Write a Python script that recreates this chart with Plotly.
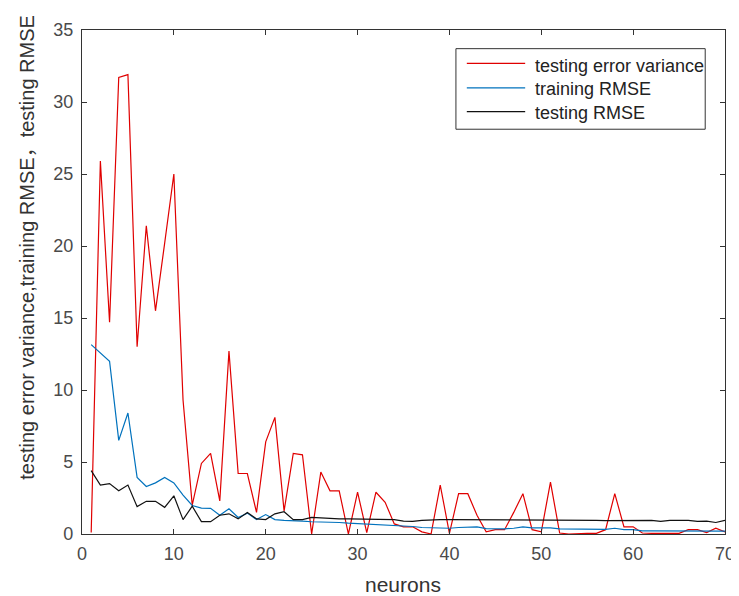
import plotly.graph_objects as go

neurons = list(range(1, 71))

testing_error_variance = [
    0.1, 25.9, 14.7, 31.7, 31.9, 13.0, 21.4, 15.5, 20.2, 25.0,
    9.3, 2.0, 4.9, 5.6, 2.3, 12.7, 4.2, 4.2, 1.5, 6.4,
    8.1, 1.6, 5.6, 5.5, 0.0, 4.3, 3.0, 3.0, 0.0, 2.9,
    0.1, 2.9, 2.2, 0.7, 0.5, 0.5, 0.15, 0.0, 3.4, 0.05,
    2.8, 2.8, 1.3, 0.15, 0.3, 0.3, 1.5, 2.8, 0.3, 0.15,
    3.6, 0.07, 0.0, 0.05, 0.05, 0.05, 0.3, 2.8, 0.5, 0.5,
    0.07, 0.05, 0.05, 0.05, 0.05, 0.3, 0.3, 0.1, 0.4, 0.15,
]

training_rmse = [
    13.15, 12.6, 12.0, 6.5, 8.4, 3.93, 3.3, 3.55, 3.93, 3.55,
    2.7, 1.98, 1.8, 1.78, 1.3, 1.75, 1.15, 1.45, 1.0, 1.35,
    1.0, 0.95, 0.95, 0.9, 0.85, 0.85, 0.8, 0.8, 0.75, 0.72,
    0.7, 0.68, 0.66, 0.6, 0.55, 0.52, 0.45, 0.42, 0.42, 0.4,
    0.45, 0.5, 0.5, 0.38, 0.36, 0.36, 0.4, 0.5, 0.42, 0.42,
    0.42, 0.35, 0.34, 0.34, 0.33, 0.32, 0.32, 0.4, 0.3, 0.3,
    0.22, 0.22, 0.22, 0.22, 0.22, 0.25, 0.25, 0.22, 0.22, 0.2,
]

testing_rmse = [
    4.4, 3.4, 3.5, 3.0, 3.4, 1.9, 2.27, 2.27, 1.85, 2.65,
    1.0, 1.93, 0.86, 0.86, 1.3, 1.4, 1.05, 1.5, 1.05, 1.0,
    1.4, 1.55, 1.0, 1.0, 1.15, 1.1, 1.05, 1.05, 1.05, 1.05,
    1.05, 1.02, 1.02, 1.0, 0.9, 0.88, 0.95, 1.0, 1.0, 1.0,
    1.0, 0.97, 0.95, 0.95, 0.95, 0.95, 0.95, 0.95, 0.95, 0.95,
    0.95, 0.95, 0.95, 0.95, 0.95, 0.95, 0.93, 0.93, 0.93, 0.95,
    0.95, 0.95, 0.87, 0.95, 0.95, 0.95, 0.87, 0.9, 0.8, 0.95,
]

series_names = ["testing error variance", "training RMSE", "testing RMSE"]
series_colors = ["#e00000", "#0072BD", "#111111"]
x_ticks = [0, 10, 20, 30, 40, 50, 60, 70]
y_ticks = [0, 5, 10, 15, 20, 25, 30, 35]
x_title = "neurons"
y_title = "testing error variance,training RMSE，testing RMSE"

W, H = 739, 596
L, R, T, B = 74, 724, 13, 526  # plot area in pixels


def px(xp):
    return (xp - L) / (R - L)


def py(yp):
    return (B - yp) / (B - T)


FONT = "Liberation Sans, Arial, Noto Sans CJK SC, sans-serif"

fig = go.Figure()
for name, vals, col in zip(series_names,
                           [testing_error_variance, training_rmse, testing_rmse],
                           series_colors):
    fig.add_trace(go.Scatter(x=neurons, y=vals, mode="lines", name=name,
                             line=dict(color=col, width=1.2), showlegend=False))

axis_common = dict(
    showgrid=False, zeroline=False, showline=True, linecolor="#333333",
    linewidth=1.2, mirror="ticks", ticks="inside", ticklen=5,
    tickcolor="#333333", tickwidth=1,
    tickfont=dict(family=FONT, size=18, color="#4a4a4a"),
)

fig.update_layout(
    width=W, height=H,
    margin=dict(l=L, r=W - R, t=T, b=H - B),
    paper_bgcolor="white", plot_bgcolor="white",
    xaxis=dict(range=[0, 70], tickvals=x_ticks, ticklabelstandoff=3, **axis_common),
    yaxis=dict(range=[0, 35], tickvals=y_ticks, ticklabelstandoff=4, **axis_common),
    showlegend=False,
)

# axis titles
fig.add_annotation(text=x_title, xref="paper", yref="paper", x=px(398), y=py(577),
                   showarrow=False, xanchor="center", yanchor="middle",
                   font=dict(family=FONT, size=21, color="#333333"))
fig.add_annotation(text=y_title, xref="paper", yref="paper", x=px(19), y=py(234),
                   showarrow=False, xanchor="center", yanchor="middle", textangle=-90,
                   font=dict(family=FONT, size=20, color="#333333"))

# legend box (MATLAB style)
fig.add_shape(type="rect", xref="paper", yref="paper",
              x0=px(452), x1=px(704), y0=py(114), y1=py(32),
              line=dict(color="#333333", width=1), fillcolor="white", layer="above")
line_y = [47, 72, 96]
text_y = [50, 73.5, 97.5]
for name, col, ly, ty in zip(series_names, series_colors, line_y, text_y):
    fig.add_shape(type="line", xref="paper", yref="paper",
                  x0=px(463), x1=px(522), y0=py(ly), y1=py(ly),
                  line=dict(color=col, width=1.2), layer="above")
    fig.add_annotation(text=name, xref="paper", yref="paper", x=px(530), y=py(ty),
                       showarrow=False, xanchor="left", yanchor="middle",
                       font=dict(family=FONT, size=18, color="#222222"))

fig.write_html("out.html")
